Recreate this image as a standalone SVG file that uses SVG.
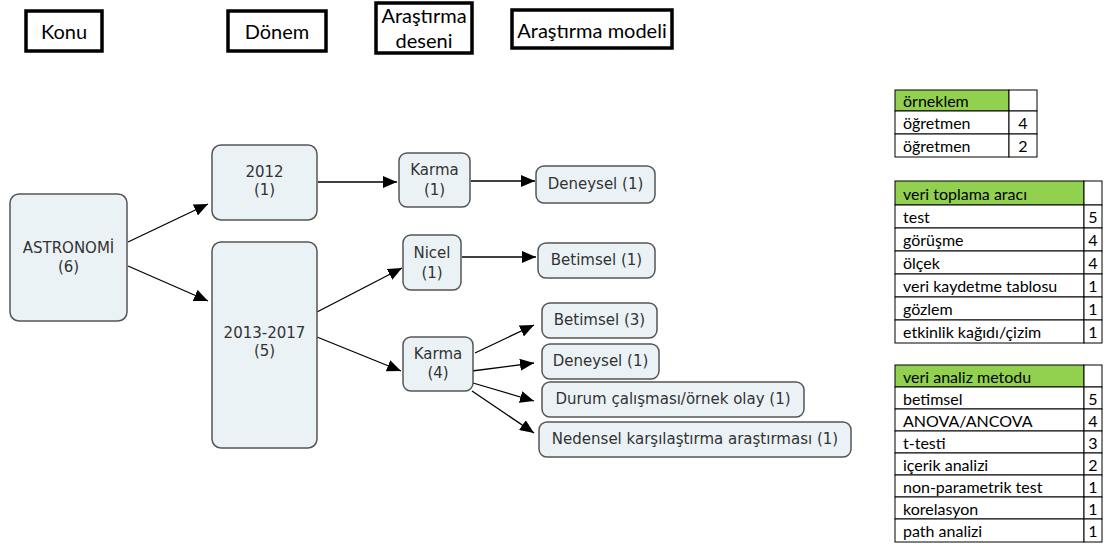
<svg xmlns="http://www.w3.org/2000/svg" width="1115" height="548" viewBox="0 0 1115 548">
<style>
.hdr{fill:#fff;stroke:#000;stroke-width:3.5}
.ht{font-family:Lato,"Liberation Sans",sans-serif;font-size:20px;fill:#000;text-anchor:middle;dominant-baseline:central}
.nd{fill:#ebf2f6;stroke:#555;stroke-width:1.5}
.nt{font-family:"DejaVu Sans",Verdana,sans-serif;font-size:15px;fill:#333;text-anchor:middle;dominant-baseline:central}
.cn line{stroke:#000;stroke-width:1.3;marker-end:url(#ah)}
.tc{fill:#fff;stroke:#000;stroke-width:1}
.tg{fill:#92d050;stroke:#000;stroke-width:1}
.tt{font-family:Lato,"Liberation Sans",sans-serif;font-size:16px;fill:#000;dominant-baseline:central}
.tn{font-family:Lato,"Liberation Sans",sans-serif;font-size:16px;fill:#000;text-anchor:middle;dominant-baseline:central}
</style>
<defs>
<marker id="ah" markerUnits="userSpaceOnUse" markerWidth="14" markerHeight="12" refX="14" refY="6" orient="auto">
<path d="M0,0 L14,6 L0,12 z" fill="#000"/>
</marker>
</defs>
<rect width="1115" height="548" fill="#fff"/>

<g id="h-konu"><rect class="hdr" x="26" y="11" width="76" height="40"/><text class="ht" x="64" y="31">Konu</text></g>
<g id="h-donem"><rect class="hdr" x="228" y="11" width="98" height="40"/><text class="ht" x="277" y="31">Dönem</text></g>
<g id="h-desen"><rect class="hdr" x="376" y="3" width="96" height="50"/><text class="ht" x="424" y="15">Araştırma</text><text class="ht" x="424" y="40">deseni</text></g>
<g id="h-model"><rect class="hdr" x="512" y="10" width="160" height="38"/><text class="ht" x="592" y="30">Araştırma modeli</text></g>

<g class="cn" id="connectors">
<line x1="128" y1="242" x2="208" y2="204"/>
<line x1="128" y1="266" x2="208" y2="301"/>
<line x1="318" y1="182" x2="397" y2="182"/>
<line x1="471" y1="181" x2="535" y2="181"/>
<line x1="317" y1="312" x2="402" y2="268"/>
<line x1="317" y1="337" x2="401" y2="371"/>
<line x1="462" y1="257" x2="536" y2="257"/>
<line x1="475" y1="353" x2="534" y2="325"/>
<line x1="472" y1="371" x2="534" y2="363"/>
<line x1="473" y1="383" x2="534" y2="401"/>
<line x1="472" y1="391" x2="534" y2="433"/>
</g>

<g id="n-astronomi"><rect class="nd" x="10" y="194" width="117" height="127" rx="9"/><text class="nt" x="68.5" y="248">ASTRONOMİ</text><text class="nt" x="68.5" y="267">(6)</text></g>
<g id="n-2012"><rect class="nd" x="212" y="145" width="105" height="75" rx="9"/><text class="nt" x="264.5" y="172">2012</text><text class="nt" x="264.5" y="190">(1)</text></g>
<g id="n-2013"><rect class="nd" x="212" y="242" width="105" height="206" rx="9"/><text class="nt" x="264.5" y="333">2013-2017</text><text class="nt" x="264.5" y="351">(5)</text></g>
<g id="n-karma1"><rect class="nd" x="399" y="153" width="71" height="54" rx="8"/><text class="nt" x="434.5" y="170">Karma</text><text class="nt" x="434.5" y="190">(1)</text></g>
<g id="n-deneysel1"><rect class="nd" x="536" y="166" width="119" height="37" rx="8"/><text class="nt" x="595.5" y="184">Deneysel (1)</text></g>
<g id="n-nicel"><rect class="nd" x="403" y="235" width="58" height="55" rx="8"/><text class="nt" x="432" y="253">Nicel</text><text class="nt" x="432" y="273">(1)</text></g>
<g id="n-betimsel1"><rect class="nd" x="538" y="243" width="117" height="35" rx="8"/><text class="nt" x="596.5" y="260">Betimsel (1)</text></g>
<g id="n-karma4"><rect class="nd" x="403" y="337" width="70" height="54" rx="8"/><text class="nt" x="438" y="354">Karma</text><text class="nt" x="438" y="373">(4)</text></g>
<g id="n-betimsel3"><rect class="nd" x="542" y="303" width="115" height="35" rx="8"/><text class="nt" x="599.5" y="320">Betimsel (3)</text></g>
<g id="n-deneysel2"><rect class="nd" x="542" y="344" width="117" height="35" rx="8"/><text class="nt" x="600.5" y="361">Deneysel (1)</text></g>
<g id="n-durum"><rect class="nd" x="542" y="382" width="262" height="35" rx="8"/><text class="nt" x="673" y="399">Durum çalışması/örnek olay (1)</text></g>
<g id="n-nedensel"><rect class="nd" x="539" y="422" width="312" height="35" rx="8"/><text class="nt" x="695" y="439">Nedensel karşılaştırma araştırması (1)</text></g>

<g id="t-orneklem">
<rect class="tg" x="895" y="90" width="114" height="21"/><rect class="tc" x="1009" y="90" width="28" height="21"/>
<rect class="tc" x="895" y="111" width="114" height="23"/><rect class="tc" x="1009" y="111" width="28" height="23"/>
<rect class="tc" x="895" y="134" width="114" height="23"/><rect class="tc" x="1009" y="134" width="28" height="23"/>
<text class="tt" x="903" y="100.5">örneklem</text>
<text class="tt" x="903" y="122.5">öğretmen</text><text class="tn" x="1023" y="122.5">4</text>
<text class="tt" x="903" y="145.5">öğretmen</text><text class="tn" x="1023" y="145.5">2</text>
</g>

<g id="t-veri-toplama">
<rect class="tg" x="895" y="181" width="189" height="24"/><rect class="tc" x="1084" y="181" width="18" height="24"/>
<rect class="tc" x="895" y="205" width="189" height="23"/><rect class="tc" x="1084" y="205" width="18" height="23"/>
<rect class="tc" x="895" y="228" width="189" height="23"/><rect class="tc" x="1084" y="228" width="18" height="23"/>
<rect class="tc" x="895" y="251" width="189" height="23"/><rect class="tc" x="1084" y="251" width="18" height="23"/>
<rect class="tc" x="895" y="274" width="189" height="23"/><rect class="tc" x="1084" y="274" width="18" height="23"/>
<rect class="tc" x="895" y="297" width="189" height="23"/><rect class="tc" x="1084" y="297" width="18" height="23"/>
<rect class="tc" x="895" y="320" width="189" height="23"/><rect class="tc" x="1084" y="320" width="18" height="23"/>
<text class="tt" x="903" y="193">veri toplama aracı</text>
<text class="tt" x="903" y="216.5">test</text><text class="tn" x="1093" y="216.5">5</text>
<text class="tt" x="903" y="239.5">görüşme</text><text class="tn" x="1093" y="239.5">4</text>
<text class="tt" x="903" y="262.5">ölçek</text><text class="tn" x="1093" y="262.5">4</text>
<text class="tt" x="903" y="285.5">veri kaydetme tablosu</text><text class="tn" x="1093" y="285.5">1</text>
<text class="tt" x="903" y="308.5">gözlem</text><text class="tn" x="1093" y="308.5">1</text>
<text class="tt" x="903" y="331.5">etkinlik kağıdı/çizim</text><text class="tn" x="1093" y="331.5">1</text>
</g>

<g id="t-veri-analiz">
<rect class="tg" x="895" y="365" width="189" height="22"/><rect class="tc" x="1084" y="365" width="18" height="22"/>
<rect class="tc" x="895" y="387" width="189" height="22"/><rect class="tc" x="1084" y="387" width="18" height="22"/>
<rect class="tc" x="895" y="409" width="189" height="22"/><rect class="tc" x="1084" y="409" width="18" height="22"/>
<rect class="tc" x="895" y="431" width="189" height="22"/><rect class="tc" x="1084" y="431" width="18" height="22"/>
<rect class="tc" x="895" y="453" width="189" height="22"/><rect class="tc" x="1084" y="453" width="18" height="22"/>
<rect class="tc" x="895" y="475" width="189" height="22"/><rect class="tc" x="1084" y="475" width="18" height="22"/>
<rect class="tc" x="895" y="497" width="189" height="22"/><rect class="tc" x="1084" y="497" width="18" height="22"/>
<rect class="tc" x="895" y="519" width="189" height="23"/><rect class="tc" x="1084" y="519" width="18" height="23"/>
<text class="tt" x="903" y="376">veri analiz metodu</text>
<text class="tt" x="903" y="398">betimsel</text><text class="tn" x="1093" y="398">5</text>
<text class="tt" x="903" y="420">ANOVA/ANCOVA</text><text class="tn" x="1093" y="420">4</text>
<text class="tt" x="903" y="442">t-testi</text><text class="tn" x="1093" y="442">3</text>
<text class="tt" x="903" y="464">içerik analizi</text><text class="tn" x="1093" y="464">2</text>
<text class="tt" x="903" y="486">non-parametrik test</text><text class="tn" x="1093" y="486">1</text>
<text class="tt" x="903" y="508">korelasyon</text><text class="tn" x="1093" y="508">1</text>
<text class="tt" x="903" y="530.5">path analizi</text><text class="tn" x="1093" y="530.5">1</text>
</g>
</svg>
